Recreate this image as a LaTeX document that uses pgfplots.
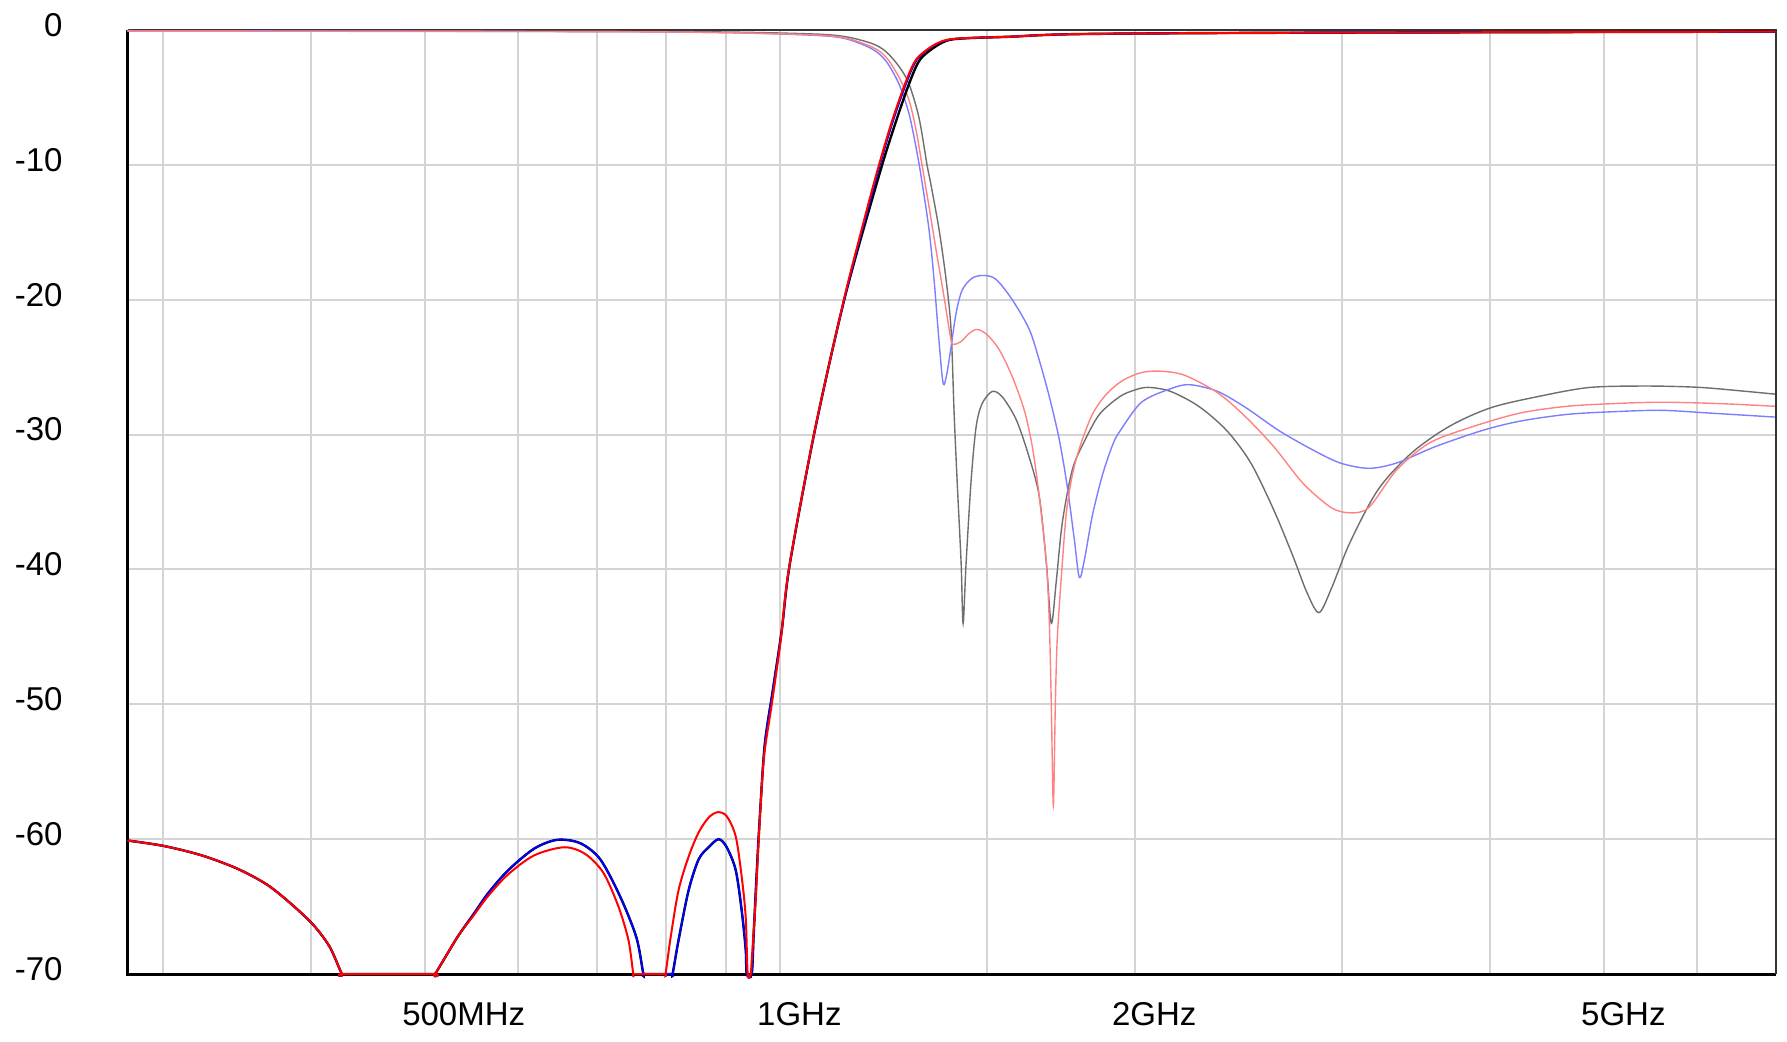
\documentclass[border=0pt]{standalone}
\usepackage{fontspec}
\setmainfont{Liberation Sans}
\usepackage{pgfplots}
\pgfplotsset{compat=1.18}
\definecolor{sgray}{RGB}{110,110,110}
\definecolor{sblue}{RGB}{125,125,255}
\definecolor{spink}{RGB}{255,130,130}
\definecolor{gridc}{RGB}{212,212,212}
\begin{document}
\begin{tikzpicture}
\useasboundingbox (0,0) rectangle (893.5pt,520.5pt);
\begin{axis}[
  at={(64pt,33.5pt)}, anchor=south west,
  width=824pt, height=472pt, scale only axis,
  xmode=log, xmin=0.28, xmax=7, ymin=-70, ymax=0,
  clip=false,
  axis line style={draw=none},
  major tick length=0pt,
  xtick={0.3,0.4,0.5,0.6,0.7,0.8,0.9,1,1.5,2,3,4,5,6},
  xticklabels={,,500MHz,,,,,1GHz,,2GHz,,,5GHz,},
  ytick={-70,-60,-50,-40,-30,-20,-10,0},
  yticklabels={-70,-60,-50,-40,-30,-20,-10,0},
  grid=major,
  major grid style={line width=1pt, color=gridc},
  tick label style={font=\fontsize{16.5}{19}\selectfont},
  xticklabel style={anchor=north west, inner sep=0pt, xshift=-11.5pt, yshift=-14pt},
  yticklabel style={anchor=east, inner sep=0pt, xshift=-32.5pt, yshift=2.5pt},
  every axis plot/.append style={smooth, tension=0.5, no marks},
]
\draw[black, line width=1.5pt] (rel axis cs:0,1) -- (rel axis cs:0,0) -- (rel axis cs:1,0);
\draw[black!80, line width=1pt] (rel axis cs:0,1) -- (rel axis cs:1,1) -- (rel axis cs:1,0);

% S11 gray
\addplot[sgray, line width=0.7pt] coordinates {
(0.2797,-0.05) (0.7018,-0.1) (0.9050,-0.15) (1.0730,-0.3) (1.1379,-0.5) (1.1974,-1.0)
(1.2305,-1.6) (1.2622,-2.7) (1.2871,-4.0) (1.3125,-6.5) (1.3333,-10.0) (1.3438,-11.5)
(1.3650,-14.8) (1.3838,-18.5) (1.3974,-22.2) (1.4057,-28.4) (1.4140,-33.4) (1.4251,-39.5)
(1.4307,-44.0) (1.4391,-39.5) (1.4533,-33.4) (1.4676,-29.4) (1.4849,-27.7) (1.5143,-26.8)
(1.5443,-27.2) (1.5872,-28.9) (1.6281,-31.7) (1.6603,-34.6) (1.6832,-39.5) (1.6997,-44.0)
(1.7165,-40.8) (1.7368,-36.5) (1.7711,-32.6) (1.8131,-30.5) (1.8672,-28.5) (1.9417,-27.2)
(1.9995,-26.7) (2.0551,-26.5) (2.1455,-26.8) (2.2664,-27.9) (2.3940,-29.7) (2.5092,-32.1)
(2.6247,-35.6) (2.7241,-39.0) (2.7998,-41.7) (2.8663,-43.2) (2.9344,-41.5) (3.0457,-38.0)
(3.2166,-34.1) (3.4312,-31.4) (3.6963,-29.4) (4.0129,-28.0) (4.4428,-27.1) (4.8707,-26.5)
(5.4455,-26.4) (6.0290,-26.5) (6.6104,-26.8) (6.9826,-27.0)
};
% S11 blue
\addplot[sblue, line width=0.7pt] coordinates {
(0.2797,-0.05) (0.7018,-0.12) (0.9050,-0.2) (1.0730,-0.4) (1.1379,-0.65) (1.1974,-1.4)
(1.2305,-2.3) (1.2622,-4.0) (1.2871,-6.2) (1.3049,-8.7) (1.3177,-10.8) (1.3385,-14.8)
(1.3517,-18.5) (1.3623,-22.2) (1.3730,-25.6) (1.3784,-26.3) (1.3865,-25.4) (1.3974,-23.5)
(1.4112,-21.0) (1.4279,-19.3) (1.4561,-18.4) (1.4907,-18.2) (1.5262,-18.5) (1.5748,-20.0)
(1.6281,-22.2) (1.6603,-24.5) (1.6931,-27.2) (1.7266,-30.4) (1.7538,-33.9) (1.7780,-37.8)
(1.7955,-40.6) (1.8131,-39.3) (1.8417,-36.0) (1.8782,-33.0) (1.9153,-30.8) (1.9417,-29.8)
(2.0271,-27.6) (2.1455,-26.6) (2.2268,-26.3) (2.3523,-26.8) (2.4848,-28.0) (2.6505,-29.7)
(2.8273,-31.1) (2.9866,-32.1) (3.1604,-32.5) (3.3384,-32.1) (3.5962,-30.9) (3.9429,-29.7)
(4.2472,-29.0) (4.6565,-28.5) (5.1049,-28.3) (5.5968,-28.2) (6.1361,-28.4) (6.9826,-28.7)
};
% S11 pink
\addplot[spink, line width=0.7pt] coordinates {
(0.2797,-0.08) (0.7018,-0.12) (0.9050,-0.2) (1.0730,-0.37) (1.1379,-0.6) (1.1974,-1.26)
(1.2305,-2.0) (1.2622,-3.5) (1.2871,-5.2) (1.3049,-7.4) (1.3203,-10.0) (1.3385,-13.1)
(1.3570,-16.3) (1.3784,-19.8) (1.3974,-23.0) (1.4057,-23.3) (1.4251,-23.1) (1.4476,-22.5)
(1.4705,-22.2) (1.4995,-22.6) (1.5352,-23.7) (1.5748,-25.7) (1.6122,-28.2) (1.6377,-30.9)
(1.6603,-34.6) (1.6832,-39.5) (1.6931,-44.0) (1.6997,-50.0) (1.7064,-57.5) (1.7131,-50.0)
(1.7198,-45.0) (1.7368,-39.5) (1.7504,-35.8) (1.7711,-33.0) (1.7990,-30.8) (1.8417,-28.5)
(1.8930,-27.0) (1.9531,-26.0) (2.0271,-25.4) (2.1039,-25.3) (2.2051,-25.6) (2.3523,-26.9)
(2.4848,-28.7) (2.6247,-30.9) (2.7779,-33.6) (2.9344,-35.4) (3.0457,-35.8) (3.1604,-35.4)
(3.3384,-32.6) (3.5612,-30.6) (3.8740,-29.4) (4.2472,-28.4) (4.6565,-27.9) (5.1049,-27.7)
(5.5968,-27.6) (6.2576,-27.7) (6.9826,-27.9)
};
% S21 black
\addplot[black, line width=1.2pt] coordinates {
(0.2797,-60.1) (0.3001,-60.5) (0.3233,-61.2) (0.3469,-62.2) (0.3678,-63.4) (0.3863,-64.9)
(0.4025,-66.4) (0.4153,-68.0) (0.4252,-70) (0.4275,-70) (0.5075,-70) (0.5101,-70) (0.5325,-67.3)
(0.5495,-65.6) (0.5659,-64.0) (0.5885,-62.3) (0.6191,-60.7) (0.6475,-60.05) (0.6773,-60.3)
(0.7044,-61.5) (0.7326,-64.3) (0.7559,-67.3) (0.7663,-70) (0.7690,-70) (0.8085,-70) (0.8111,-70) (0.8206,-67.5)
(0.8369,-63.8) (0.8535,-61.5) (0.8703,-60.6) (0.8875,-60.0) (0.9016,-60.6) (0.9176,-62.3)
(0.9284,-65.3) (0.9357,-68.2) (0.9376,-70) (0.9467,-70) (0.9504,-67) (0.9560,-62.5)
(0.9616,-58.5) (0.9711,-53) (0.9864,-49) (1.0039,-44.5) (1.0198,-39.6) (1.0709,-29.7)
(1.1357,-19.8) (1.2138,-10.8) (1.2524,-7.0) (1.2871,-4.0) (1.3151,-2.2) (1.3570,-1.2)
(1.3919,-0.74) (1.4476,-0.6) (1.5656,-0.5) (1.7955,-0.3) (2.7617,-0.2) (6.9826,-0.12)
};
% S21 blue
\addplot[blue, line width=0.9pt] coordinates {
(0.2797,-60.1) (0.3001,-60.5) (0.3233,-61.2) (0.3469,-62.2) (0.3678,-63.4) (0.3863,-64.9)
(0.4025,-66.4) (0.4153,-68.0) (0.4252,-70) (0.4275,-70) (0.5075,-70) (0.5101,-70) (0.5325,-67.3)
(0.5495,-65.6) (0.5659,-64.0) (0.5885,-62.3) (0.6191,-60.7) (0.6475,-60.05) (0.6773,-60.3)
(0.7044,-61.5) (0.7326,-64.3) (0.7559,-67.3) (0.7663,-70) (0.7690,-70) (0.8085,-70) (0.8111,-70) (0.8206,-67.5)
(0.8369,-63.8) (0.8535,-61.5) (0.8703,-60.6) (0.8875,-60.0) (0.9016,-60.6) (0.9176,-62.3)
(0.9284,-65.3) (0.9357,-68.2) (0.9376,-70) (0.9467,-70) (0.9504,-67) (0.9560,-62.5)
(0.9616,-58.5) (0.9711,-53) (0.9864,-49) (1.0039,-44.5) (1.0198,-39.6) (1.0709,-29.7)
(1.1357,-19.8) (1.2091,-10.8) (1.2450,-7.0) (1.2795,-4.0) (1.3075,-2.2) (1.3490,-1.2)
(1.3865,-0.74) (1.4420,-0.6) (1.5656,-0.5) (1.7955,-0.3) (2.7617,-0.2) (6.9826,-0.12)
};
% S21 red
\addplot[red, line width=1pt] coordinates {
(0.2797,-60.1) (0.3001,-60.5) (0.3233,-61.2) (0.3469,-62.2) (0.3678,-63.4) (0.3863,-64.9)
(0.4025,-66.4) (0.4153,-68.0) (0.4252,-70) (0.4275,-70) (0.5075,-70) (0.5101,-70) (0.5325,-67.3)
(0.5495,-65.7) (0.5659,-64.2) (0.5885,-62.6) (0.6191,-61.2) (0.6565,-60.6) (0.6839,-61.1)
(0.7087,-62.5) (0.7298,-65.0) (0.7443,-67.5) (0.7514,-70) (0.7540,-70) (0.7975,-70) (0.8000,-70) (0.8080,-67.3)
(0.8206,-63.8) (0.8369,-61.3) (0.8535,-59.5) (0.8703,-58.4) (0.8858,-58.0) (0.9016,-58.3)
(0.9176,-59.8) (0.9284,-62.8) (0.9357,-65.8) (0.9393,-70) (0.9448,-70) (0.9467,-69)
(0.9541,-64.5) (0.9598,-60) (0.9692,-54.1) (0.9845,-50) (1.0020,-45.2) (1.0178,-40)
(1.0688,-30) (1.1334,-20) (1.1718,-15) (1.2067,-10.8) (1.2426,-7.0) (1.2771,-4.0)
(1.3049,-2.2) (1.3464,-1.2) (1.3839,-0.74) (1.4390,-0.6) (1.5656,-0.5) (1.7955,-0.3)
(2.7617,-0.2) (6.9826,-0.12)
};
\end{axis}
\end{tikzpicture}
\end{document}
